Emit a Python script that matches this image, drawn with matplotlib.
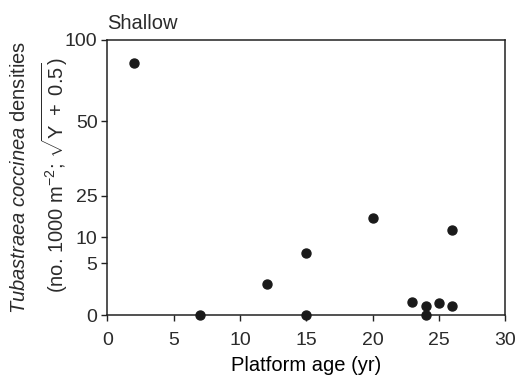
import numpy as np
import matplotlib
matplotlib.use("Agg")
import matplotlib.pyplot as plt

plt.rcParams['font.family'] = ['Liberation Sans', 'DejaVu Sans']
plt.rcParams['mathtext.fontset'] = 'custom'
plt.rcParams['mathtext.rm'] = 'Liberation Sans'
plt.rcParams['mathtext.it'] = 'Liberation Sans:italic'
plt.rcParams['text.color'] = '#2b2b2b'
plt.rcParams['xtick.labelcolor'] = '#2b2b2b'
plt.rcParams['ytick.labelcolor'] = '#2b2b2b'

# datos
age = [2, 7, 12, 15, 15, 20, 23, 24, 24, 25, 26, 26]
density = [86, 0, 3, 7, 0, 17, 1.25, 0.85, 0, 1.2, 12.6, 0.85]

y_ticks = [0, 5, 10, 25, 50, 100]
x_ticks = [0, 5, 10, 15, 20, 25, 30]

# posicion relativa de cada marca del eje y en la figura original
tick_pos = [0, 52, 78, 119, 194, 275]


def fwd(v):
    return np.interp(v, y_ticks, tick_pos)


def inv(p):
    return np.interp(p, tick_pos, y_ticks)


fig = plt.figure(figsize=(5.15, 3.78), dpi=100)
ax = fig.add_axes([107.3 / 515, 1 - 315 / 378, 398 / 515, 275 / 378])
ax.set_yscale('function', functions=(fwd, inv))

ax.scatter(age, density, s=42, color='#1a1a1a', zorder=3, clip_on=False)

ax.set_xlim(0, 30)
ax.set_ylim(0, 100)
ax.set_xticks(x_ticks)
ax.set_yticks(y_ticks)
ax.set_yticklabels([str(t) for t in y_ticks])
ax.tick_params(labelsize=14, length=4, width=1, color='#222222')
ax.tick_params(axis='x', pad=8)
ax.tick_params(axis='y', pad=3)
for s in ax.spines.values():
    s.set_linewidth(1.1)
    s.set_color('#222222')

ax.set_xlabel('Platform age (yr)', fontsize=14.5, labelpad=5.5)
ax.text(0, 1.027, 'Shallow', transform=ax.transAxes, fontsize=14.5, ha='left', va='bottom')

fig.text(20 / 515, 1 - 177 / 378, r'$\it{Tubastraea\ coccinea}$ densities',
         rotation=90, ha='center', va='center', fontsize=14.5)
fig.text(55 / 515, 1 - 175 / 378, r'(no. 1000 m$^{-2}$; $\sqrt{\mathrm{Y\ +\ 0.5}}$)',
         rotation=90, ha='center', va='center', fontsize=14.5)

plt.savefig('out.png', dpi=100)
